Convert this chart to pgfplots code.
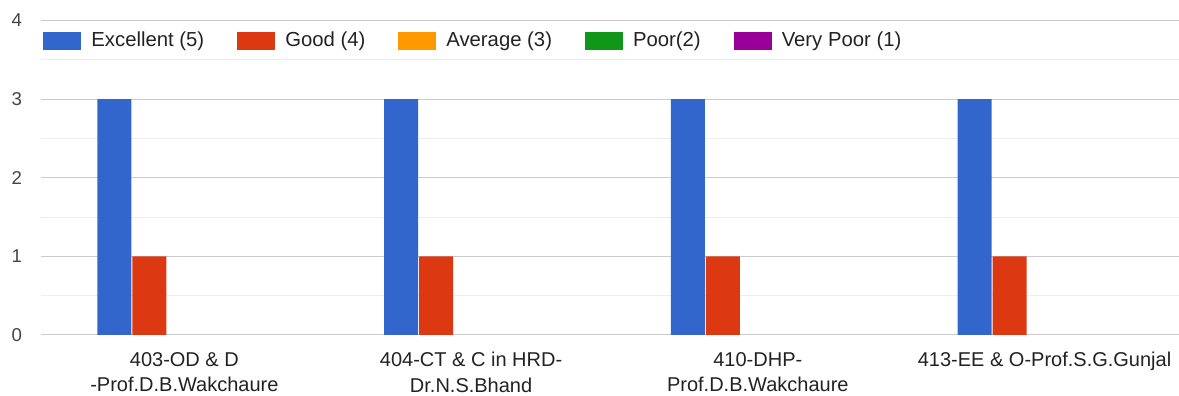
\documentclass[border=0pt]{standalone}
\usepackage{pgfplots}
\pgfplotsset{compat=1.18}
\usepackage{fontspec}
\setmainfont{Liberation Sans}
\definecolor{gblue}{HTML}{3366CC}
\definecolor{gred}{HTML}{DC3912}
\definecolor{gorange}{HTML}{FF9900}
\definecolor{ggreen}{HTML}{109618}
\definecolor{gpurple}{HTML}{990099}
\definecolor{gtext}{HTML}{222222}
\definecolor{gtick}{HTML}{444444}
\begin{document}
\begin{tikzpicture}
\useasboundingbox (0,0) rectangle (589.5pt,198pt);
\begin{axis}[
  at={(20.5pt,30.5pt)}, anchor=south west,
  scale only axis, width=569pt, height=157.25pt,
  ybar, bar width=17pt,
  xmin=-0.5, xmax=3.469,
  ymin=0, ymax=4,
  ytick={0,1,2,3,4},
  minor y tick num=1,
  xtick={0,1,2,3},
  xticklabels={{403-OD \& D\\-Prof.D.B.Wakchaure},{404-CT \& C in HRD-\\Dr.N.S.Bhand},{410-DHP-\\Prof.D.B.Wakchaure},{413-EE \& O-Prof.S.G.Gunjal}},
  xticklabel style={align=center, font=\fontsize{10}{12.75}\selectfont, text=gtext, yshift=-5pt},
  yticklabel style={font=\fontsize{9.3}{11}\selectfont, text=gtick, xshift=-6pt},
  /pgf/number format/assume math mode=true,
  major tick length=0pt, minor tick length=0pt,
  axis line style={draw=none},
  ymajorgrids, yminorgrids,
  major grid style={draw=black!20, line width=0.5pt},
  minor grid style={draw=black!7, line width=0.5pt},
  extra y ticks={0},
  extra y tick labels={},
  extra y tick style={grid style={draw=black!60, line width=0.8pt}},
  legend columns=5,
  legend image code/.code={\fill[#1] (0pt,-4.5pt) rectangle (19pt,4.5pt);},
  legend style={at={(axis description cs:0.0018,0.935)}, anchor=west, draw=none, fill=none,
    font=\fontsize{10.15}{12}\selectfont, text=gtext, inner sep=0pt,
    /tikz/every odd column/.append style={column sep=3pt},
    /tikz/every even column/.append style={column sep=14.5pt}},
]
\addplot[fill=gblue, draw=none, bar shift=-35pt] coordinates {(0,3) (1,3) (2,3) (3,3)};
\addlegendentry{Excellent (5)}
\addplot[fill=gred, draw=none, bar shift=-17.5pt] coordinates {(0,1) (1,1) (2,1) (3,1)};
\addlegendentry{Good (4)}
\addplot[fill=none, draw=none, bar shift=0pt, forget plot] coordinates {(0,0) (1,0) (2,0) (3,0)};
\addlegendimage{fill=gorange, draw=none}
\addlegendentry{Average (3)}
\addplot[fill=none, draw=none, bar shift=17.5pt, forget plot] coordinates {(0,0) (1,0) (2,0) (3,0)};
\addlegendimage{fill=ggreen, draw=none}
\addlegendentry{Poor(2)}
\addplot[fill=none, draw=none, bar shift=35pt, forget plot] coordinates {(0,0) (1,0) (2,0) (3,0)};
\addlegendimage{fill=gpurple, draw=none}
\addlegendentry{Very Poor (1)}
\end{axis}
\end{tikzpicture}
\end{document}
